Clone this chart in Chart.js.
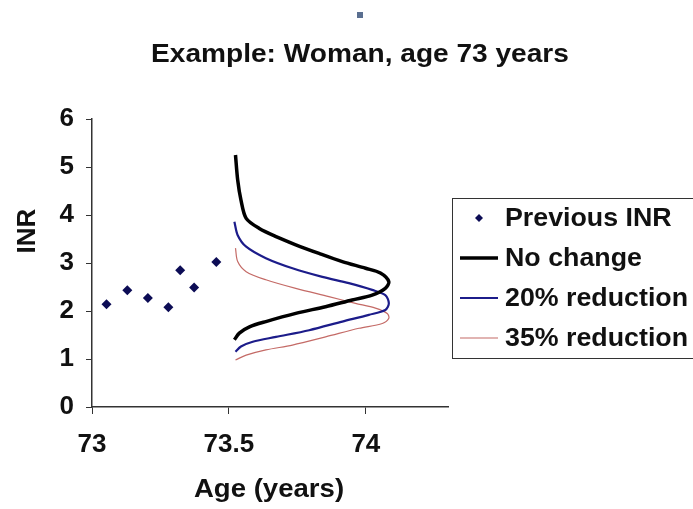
<!DOCTYPE html>
<html>
<head>
<meta charset="utf-8">
<script src="https://cdn.jsdelivr.net/npm/chart.js@4.4.1/dist/chart.umd.min.js"></script>
<style>
    html, body { margin: 0; padding: 0; background: #fff; }
    #wrap { position: relative; width: 693px; height: 509px; }
</style>
</head>
<body>
<div id="wrap"><canvas id="inrChart"></canvas></div>
<script>
// Previous INR measurements (age in years, INR)
const prevAge = [73.053, 73.129, 73.204, 73.279, 73.322, 73.373, 73.454];
const prevInr = [2.14, 2.43, 2.27, 2.08, 2.85, 2.49, 3.02];

// Projected curves — traced top to bottom
const noChangeAge = [73.524, 73.532, 73.544, 73.563, 73.611, 73.672, 73.744, 73.829, 73.914, 73.999, 74.053, 74.084, 74.071, 74.023, 73.950, 73.853, 73.744, 73.635, 73.575, 73.538, 73.520];
const noChangeInr = [5.25, 4.73, 4.31, 3.93, 3.72, 3.55, 3.38, 3.20, 3.03, 2.89, 2.79, 2.61, 2.47, 2.33, 2.23, 2.09, 1.95, 1.78, 1.67, 1.54, 1.40];

const red20Age = [73.520, 73.532, 73.563, 73.635, 73.732, 73.841, 73.938, 74.023, 74.071, 74.084, 74.071, 74.011, 73.914, 73.793, 73.672, 73.587, 73.544, 73.524];
const red20Inr = [3.86, 3.58, 3.34, 3.10, 2.89, 2.71, 2.58, 2.44, 2.33, 2.16, 2.02, 1.92, 1.78, 1.60, 1.46, 1.36, 1.26, 1.15];

const red35Age = [73.524, 73.532, 73.563, 73.635, 73.744, 73.865, 73.962, 74.035, 74.078, 74.084, 74.060, 73.975, 73.853, 73.732, 73.635, 73.563, 73.524];
const red35Inr = [3.31, 3.03, 2.82, 2.65, 2.47, 2.30, 2.16, 2.06, 1.95, 1.85, 1.74, 1.64, 1.46, 1.29, 1.19, 1.08, 0.98];

const seriesNames = ['Previous INR', 'No change', '20% reduction', '35% reduction'];
const xTickValues = [73, 73.5, 74];
const yTickValues = [0, 1, 2, 3, 4, 5, 6];

const FAMILY = '"Liberation Sans", Arial, sans-serif';
const FONT = 'bold 26px ' + FAMILY;

function toPoints(xs, ys) {
    return xs.map((x, i) => ({ x: x, y: ys[i] }));
}

// the original text is a touch wider than Arial, so stretch it a little
function wideText(ctx, text, x, y, sx) {
    ctx.save();
    ctx.translate(x, y);
    ctx.scale(sx, 1);
    ctx.fillText(text, 0, 0);
    ctx.restore();
}

// titles, axis names and the boxed legend
const decorPlugin = {
    id: 'decor',
    afterDraw(chart) {
        const ctx = chart.ctx;
        ctx.save();

        // little square above the title
        ctx.fillStyle = '#5a6f90';
        ctx.fillRect(357, 12, 6, 6);

        ctx.fillStyle = '#111';
        ctx.font = FONT;
        ctx.textAlign = 'center';
        ctx.textBaseline = 'alphabetic';
        wideText(ctx, 'Example: Woman, age 73 years', 360, 62, 1.08);
        wideText(ctx, 'Age (years)', 269, 497, 1.06);

        ctx.save();
        ctx.translate(35, 231);
        ctx.rotate(-Math.PI / 2);
        ctx.fillText('INR', 0, 0);
        ctx.restore();

        // legend box
        ctx.strokeStyle = '#333';
        ctx.lineWidth = 1;
        ctx.strokeRect(452.5, 198.5, 260, 160);

        ctx.textAlign = 'left';
        ctx.textBaseline = 'middle';
        const rowY = [218, 258, 298, 338];
        chart.data.datasets.forEach((ds, i) => {
            const y = rowY[i];
            if (i === 0) {
                ctx.fillStyle = ds.backgroundColor;
                ctx.beginPath();
                ctx.moveTo(479, y - 4);
                ctx.lineTo(483, y);
                ctx.lineTo(479, y + 4);
                ctx.lineTo(475, y);
                ctx.closePath();
                ctx.fill();
            } else {
                ctx.strokeStyle = ds.borderColor;
                ctx.lineWidth = ds.borderWidth;
                ctx.beginPath();
                ctx.moveTo(460, y);
                ctx.lineTo(498, y);
                ctx.stroke();
            }
            ctx.fillStyle = '#111';
            wideText(ctx, ds.label, 505, y + 1, 1.03);
        });
        ctx.restore();
    }
};

new Chart(document.getElementById('inrChart'), {
    type: 'scatter',
    data: {
        datasets: [
            { label: seriesNames[0], data: toPoints(prevAge, prevInr), showLine: false, pointStyle: 'rectRot', pointRadius: 5, backgroundColor: '#0c0c55', borderColor: '#0c0c55', borderWidth: 0 },
            { label: seriesNames[1], data: toPoints(noChangeAge, noChangeInr), showLine: true, borderColor: '#000000', borderWidth: 3.5, pointRadius: 0, tension: 0.3 },
            { label: seriesNames[2], data: toPoints(red20Age, red20Inr), showLine: true, borderColor: '#1c1c8a', borderWidth: 2.2, pointRadius: 0, tension: 0.3 },
            { label: seriesNames[3], data: toPoints(red35Age, red35Inr), showLine: true, borderColor: '#c46a66', borderWidth: 1.2, pointRadius: 0, tension: 0.3 }
        ]
    },
    options: {
        responsive: true,
        maintainAspectRatio: false,
        animation: false,
        layout: { padding: { left: 0, right: 245, top: 119, bottom: 0 } },
        plugins: { legend: { display: false }, tooltip: { enabled: false }, title: { display: false } },
        scales: {
            x: {
                type: 'linear',
                min: 73,
                max: 74.3,
                afterFit: s => { s.height = 102; },
                afterBuildTicks: s => { s.ticks = xTickValues.map(v => ({ value: v })); },
                grid: { display: true, drawOnChartArea: false, drawTicks: true, tickLength: 7, color: '#333', lineWidth: 1 },
                border: { display: true, color: '#333', width: 1.5 },
                ticks: { color: '#111', font: { family: FAMILY, size: 26, weight: 'bold' }, padding: 15, maxRotation: 0, callback: v => String(v) }
            },
            y: {
                type: 'linear',
                min: 0,
                max: 6,
                afterFit: s => { s.width = 92; },
                afterBuildTicks: s => { s.ticks = yTickValues.map(v => ({ value: v })); },
                grid: { display: true, drawOnChartArea: false, drawTicks: true, tickLength: 6, color: '#333', lineWidth: 1 },
                border: { display: true, color: '#333', width: 1.5 },
                ticks: { color: '#111', font: { family: FAMILY, size: 26, weight: 'bold' }, padding: 12 }
            }
        }
    },
    plugins: [decorPlugin]
});
</script>
</body>
</html>
